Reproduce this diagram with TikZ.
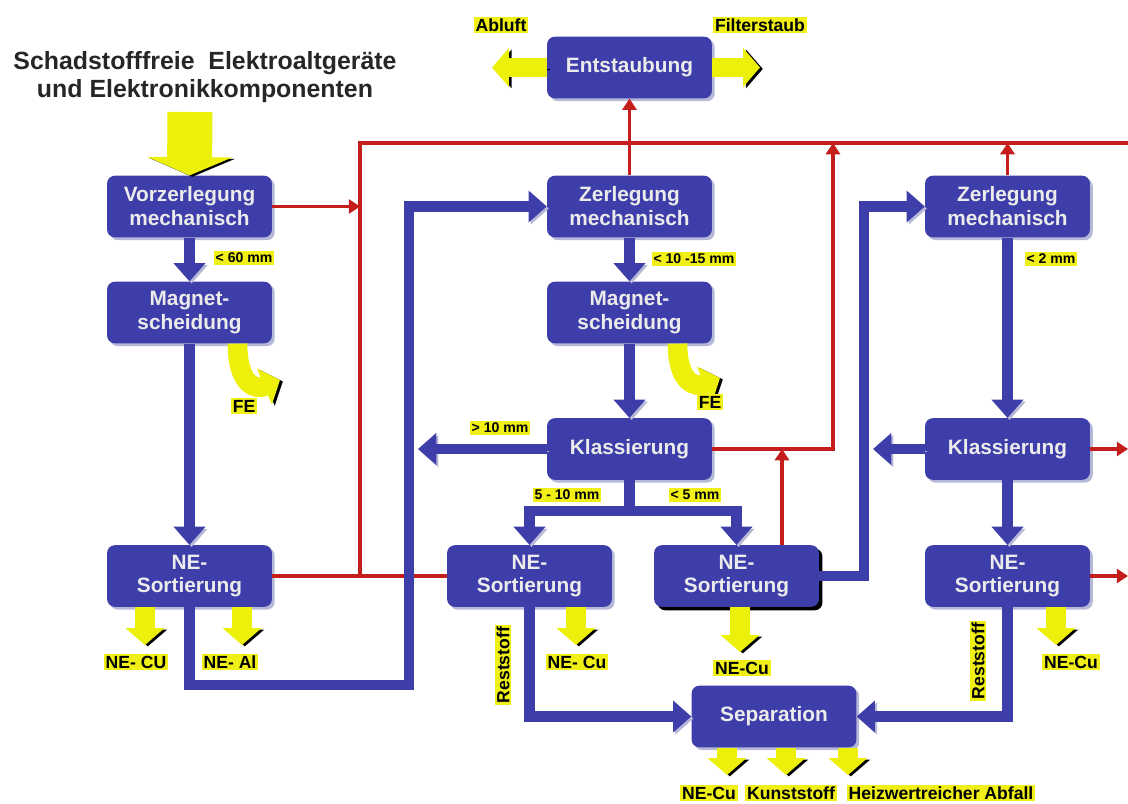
\documentclass[tikz,border=0pt]{standalone}
\usepackage{fontspec}
\setmainfont{Liberation Sans}
\usetikzlibrary{arrows.meta,shadows}
\definecolor{boxblue}{RGB}{62,62,170}
\definecolor{boxshade}{RGB}{182,184,216}
\definecolor{flowred}{RGB}{196,30,28}
\definecolor{hl}{RGB}{240,240,24}
\definecolor{arryel}{RGB}{236,240,10}

\begin{document}
\begin{tikzpicture}[x=0.025cm, y=-0.025cm,
  box/.style={rectangle, rounded corners=5.5pt, fill=boxblue, text=white!92!black, minimum width=4.12cm, minimum height=1.54cm, align=center, font=\fontsize{14.8}{17}\selectfont\bfseries, drop shadow={shadow xshift=2pt, shadow yshift=-2pt, fill=boxshade, opacity=1}},
  flow/.style={draw=boxblue, line width=7.4pt, -{Triangle[width=22pt,length=13pt]}, preaction={draw=boxshade, transform canvas={xshift=1.5pt,yshift=-1.5pt}}},
  rest/.style={draw=flowred, line width=2.8pt},
  restarr/.style={rest, -{Triangle[width=10pt,length=8pt]}},
  yarr/.style={draw=arryel, line width=14pt, -{Triangle[width=27pt,length=12pt]}, preaction={draw=black, transform canvas={xshift=2pt,yshift=-1pt}}},
  bigyarr/.style={yarr, line width=32pt, -{Triangle[width=60pt,length=13pt]}},
  mm/.style={fill=hl, inner sep=1.2pt, font=\fontsize{10}{11}\selectfont\bfseries},
  prod/.style={fill=hl, inner sep=1.2pt, font=\fontsize{12.5}{14}\selectfont\bfseries},
  headtxt/.style={align=center, text=black!85, font=\fontsize{17.7}{20}\selectfont\bfseries}]
  \useasboundingbox (0,0) rectangle (1128,803);

  % input
  \node[headtxt] (head) at (205,77) {Schadstofffreie~ Elektroaltgeräte\\und Elektronikkomponenten};

  % boxes
  \node[box] (vor) at (189.5,206.5) {Vorzerlegung\\mechanisch};
  \node[box] (magL) at (189.5,312.5) {Magnet-\\scheidung};
  \node[box] (nsL) at (189.5,576) {NE-\\Sortierung};
  \node[box] (ent) at (629.5,67.5) {Entstaubung};
  \node[box] (zerM) at (629.5,206.5) {Zerlegung\\mechanisch};
  \node[box] (magM) at (629.5,312.5) {Magnet-\\scheidung};
  \node[box] (klaM) at (629.5,449) {Klassierung};
  \node[box] (nsML) at (529.5,576) {NE-\\Sortierung};
  \node[box, drop shadow={shadow xshift=2.5pt, shadow yshift=-2.5pt, fill=black, opacity=1}] (nsMR) at (736.5,576) {NE-\\Sortierung};
  \node[box] (zerR) at (1007.5,206.5) {Zerlegung\\mechanisch};
  \node[box] (klaR) at (1007.5,449) {Klassierung};
  \node[box] (nsR) at (1007.5,576) {NE-\\Sortierung};
  \node[box] (sep) at (774,716.5) {Separation};

  % free ends
  \coordinate (rx) at (360,576);
  \coordinate (rtop) at (360,143);
  \coordinate (rend) at (1128,143);
  \coordinate (rc) at (833,143);
  \coordinate (rm) at (782,449);
  \coordinate (lb) at (409,685);
  \coordinate (gt) at (418,449);
  \coordinate (split) at (629.5,511);
  \coordinate (rb) at (864,576);
  \coordinate (kl) at (873,449);

  % exhaust lines
  \draw[rest] (nsL.east) -- (nsML.west);
  \draw[rest] (rx) -- (rtop) -- (rend);
  \draw[restarr] (vor.east) -- (vor.east -| rx);
  \draw[restarr] (zerM.north) -- (ent.south);
  \draw[restarr] (klaM.east) -| (rc);
  \draw[restarr] (nsMR.north -| rm) -- (rm);
  \draw[restarr] (zerR.north) -- (zerR.north |- rend);
  \draw[restarr] (klaR.east) -- (klaR.east -| rend);
  \draw[restarr] (nsR.east) -- (nsR.east -| rend);

  % material flow
  \draw[flow] (vor) -- (magL);
  \draw[flow] (magL) -- (nsL);
  \draw[flow] (nsL.south) |- (lb) |- (zerM.west);
  \draw[flow] (zerM) -- (magM);
  \draw[flow] (magM) -- (klaM);
  \draw[flow] (klaM.west) -- (gt);
  \draw[flow] (klaM.south) -- (split) -| (nsML.north);
  \draw[flow] (klaM.south) -- (split) -| (nsMR.north);
  \draw[flow] (nsML.south) |- (sep.west);
  \draw[flow] (nsMR.east) -- (rb) |- (zerR.west);
  \draw[flow] (zerR) -- (klaR);
  \draw[flow] (klaR.west) -- (kl);
  \draw[flow] (klaR) -- (nsR);
  \draw[flow] (nsR.south) |- (sep.east);

  % products
  \coordinate (inTop) at (190,112);
  \coordinate (abl) at (492,67.5);
  \coordinate (fst) at (760,67.5);
  \coordinate (feA) at (280,380);
  \coordinate (feB) at (720,378);
  \coordinate (dA) at (145,645);
  \coordinate (dB) at (242,645);
  \coordinate (dC) at (576,645);
  \coordinate (dD) at (740,652);
  \coordinate (dE) at (1056,645);
  \coordinate (s1) at (727,775);
  \coordinate (s2) at (786,775);
  \coordinate (s3) at (848,775);
  \draw[bigyarr] (inTop) -- (vor.north);
  \draw[yarr] (ent.west) -- (abl);
  \draw[yarr] (ent.east) -- (fst);
  \draw[yarr] ([xshift=1.2cm]magL.south) .. controls +(0,42) and +(-24,10) .. (feA);
  \draw[yarr] ([xshift=1.2cm]magM.south) .. controls +(0,40) and +(-24,10) .. (feB);
  \draw[yarr] (nsL.south -| dA) -- (dA);
  \draw[yarr] (nsL.south -| dB) -- (dB);
  \draw[yarr] (nsML.south -| dC) -- (dC);
  \draw[yarr] (nsMR.south -| dD) -- (dD);
  \draw[yarr] (nsR.south -| dE) -- (dE);
  \draw[yarr] (sep.south -| s1) -- (s1);
  \draw[yarr] (sep.south -| s2) -- (s2);
  \draw[yarr] (sep.south -| s3) -- (s3);

  % labels
  \node[mm] (l60) at (244,258) {< 60 mm};
  \node[mm] (l15) at (694,259) {< 10 -15 mm};
  \node[mm] (l2) at (1051,259) {< 2 mm};
  \node[mm] (lgt) at (500,428) {> 10 mm};
  \node[mm] (l510) at (567,495) {5 - 10 mm};
  \node[mm] (l5) at (695,495) {< 5 mm};
  \node[prod] (tAbl) at (501,25) {Abluft};
  \node[prod] (tFst) at (760,25) {Filterstaub};
  \node[prod] (tFeL) at (244,406) {FE};
  \node[prod] (tFeM) at (710,402) {FE};
  \node[prod] (tCuL) at (136,662) {NE- CU};
  \node[prod] (tAl) at (230,662) {NE- Al};
  \node[prod, rotate=90, font=\fontsize{12.5}{14}\selectfont\bfseries] (rs1) at (503,665) {Reststoff};
  \node[prod, rotate=90, font=\fontsize{12.5}{14}\selectfont\bfseries] (rs2) at (978,661) {Reststoff};
  \node[prod] (tCuM) at (577,662) {NE- Cu};
  \node[prod] (tCuR) at (742,668) {NE-Cu};
  \node[prod] (tCuRR) at (1071,662) {NE-Cu};
  \node[prod] (tCuS) at (709,793) {NE-Cu};
  \node[prod] (tKst) at (791,793) {Kunststoff};
  \node[prod] (tHz) at (941,793) {Heizwertreicher Abfall};
\end{tikzpicture}
\end{document}
